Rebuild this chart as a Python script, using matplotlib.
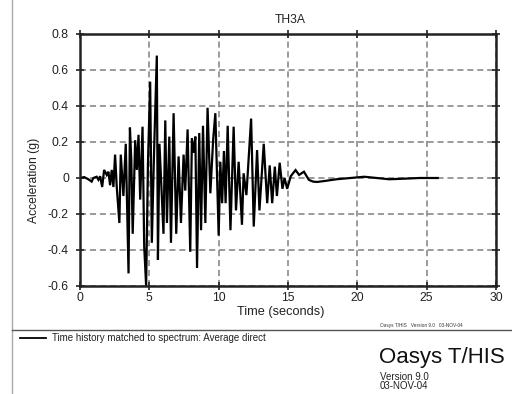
import numpy as np
import matplotlib
matplotlib.use("Agg")
import matplotlib.pyplot as plt

plt.rcParams['font.family'] = ['Liberation Sans', 'DejaVu Sans']

# time history (peaks and troughs)
time_s = [0.0, 0.3, 0.6, 0.84, 0.96, 1.2, 1.33, 1.45, 1.6, 1.74, 1.93, 2.05, 2.17, 2.29,
          2.41, 2.53, 2.65, 2.84, 2.94, 3.13, 3.3, 3.5, 3.6, 3.7, 3.8, 3.98, 4.1, 4.22,
          4.34, 4.51, 4.63, 4.77, 4.9, 5.06, 5.18, 5.35, 5.54, 5.62, 5.73, 5.9, 6.02,
          6.15, 6.27, 6.44, 6.56, 6.75, 6.94, 7.11, 7.28, 7.47, 7.59, 7.76, 7.95, 8.07,
          8.19, 8.32, 8.44, 8.6, 8.73, 8.87, 9.04, 9.2, 9.4, 9.6, 9.76, 10.0, 10.12,
          10.25, 10.38, 10.5, 10.65, 10.85, 11.08, 11.25, 11.44, 11.68, 11.8, 12.0,
          12.34, 12.53, 12.77, 12.94, 13.25, 13.5, 13.68, 13.86, 14.05, 14.2, 14.4,
          14.6, 14.75, 14.94, 15.2, 15.4, 15.55, 15.8, 16.15, 16.5, 16.8, 17.1, 17.6,
          18.5, 19.5, 20.5, 21.4, 22.3, 23.3, 24.5, 25.8]
accel_g = [0.0, 0.005, -0.007, -0.02, 0.0, 0.007, -0.01, 0.01, -0.05, 0.045, 0.017, 0.035,
           -0.04, 0.045, -0.05, 0.13, -0.05, -0.25, 0.13, -0.1, 0.19, -0.53, 0.28, 0.1,
           -0.31, 0.21, 0.045, 0.24, -0.12, 0.285, -0.38, -0.6, 0.08, 0.535, -0.36, 0.17,
           0.68, -0.455, 0.19, -0.1, -0.31, 0.32, -0.25, 0.23, -0.36, 0.36, -0.31, 0.12,
           -0.25, 0.13, -0.07, 0.27, -0.41, 0.22, 0.14, 0.23, -0.5, 0.25, -0.29, 0.29,
           -0.25, 0.39, -0.085, 0.21, 0.36, -0.32, 0.09, -0.14, 0.15, -0.14, 0.29, -0.29,
           0.285, -0.18, 0.09, -0.26, 0.026, -0.095, 0.33, -0.27, 0.155, -0.18, 0.19,
           -0.14, 0.07, -0.14, 0.063, -0.1, 0.085, -0.06, 0.0, -0.06, 0.01, 0.03, 0.044,
           0.017, 0.035, -0.01, -0.02, -0.022, -0.017, -0.007, 0.0, 0.007, 0.0, -0.007,
           -0.004, 0.0, 0.0]

x_ticks = [0, 5, 10, 15, 20, 25, 30]
y_ticks = [-0.6, -0.4, -0.2, 0, 0.2, 0.4, 0.6, 0.8]
y_labels = ['-0.6', '-0.4', '-0.2', '0', '0.2', '0.4', '0.6', '0.8']

W, H = 512, 394
fig = plt.figure(figsize=(W / 100, H / 100), dpi=100)

# axes box in pixels: x 80..496, y 34..286
ax = fig.add_axes([80 / W, 1 - 286 / H, 416 / W, 252 / H])
ax.plot(time_s, accel_g, color='black', lw=1.6, solid_joinstyle='miter')
ax.set_xlim(0, 30)
ax.set_ylim(-0.6, 0.8)
ax.set_xticks(x_ticks)
ax.set_yticks(y_ticks)
ax.set_yticklabels(y_labels)
ax.grid(True, color='#808080', ls=(0, (4, 2.5)), lw=1.1)
for s in ax.spines.values():
    s.set_linewidth(1.8)
    s.set_color('#222222')
ax.tick_params(direction='inout', length=6, width=1.2, color='#222222',
               labelsize=8.7, labelcolor='#222222', top=True, right=True)
ax.tick_params(axis='y', pad=5)
ax.tick_params(axis='x', pad=1.5)

fig.text(290 / W, 1 - 20 / H, 'TH3A', ha='center', va='center', fontsize=8.7, color='#222222')
fig.text(281 / W, 1 - 312 / H, 'Time (seconds)', ha='center', va='center', fontsize=9.2, color='#222222')
fig.text(34 / W, 1 - 180 / H, 'Acceleration (g)', ha='center', va='center', rotation=90,
         fontsize=8.7, color='#222222')

# page furniture
fig.add_artist(plt.Line2D([12 / W, 12 / W], [0, 1], color='#aaaaaa', lw=1))
fig.add_artist(plt.Line2D([12 / W, 1], [1 - 330 / H] * 2, color='#555555', lw=1))
fig.add_artist(plt.Line2D([20 / W, 46 / W], [1 - 338 / H] * 2, color='black', lw=1.3))
fig.text(52 / W, 1 - 338 / H, 'Time history matched to spectrum: Average direct',
         ha='left', va='center', fontsize=7, color='#222222')
fig.text(380 / W, 1 - 326 / H, 'Oasys T/HIS   Version 9.0   03-NOV-04', ha='left', va='center',
         fontsize=3.4, color='#333333')
fig.text(379 / W, 1 - 358 / H, 'Oasys T/HIS', ha='left', va='center', fontsize=16, color='#111111')
fig.text(380 / W, 1 - 377 / H, 'Version 9.0', ha='left', va='center', fontsize=7, color='#222222')
fig.text(380 / W, 1 - 386 / H, '03-NOV-04', ha='left', va='center', fontsize=7, color='#222222')

fig.savefig('out.png', dpi=100, facecolor='white')
